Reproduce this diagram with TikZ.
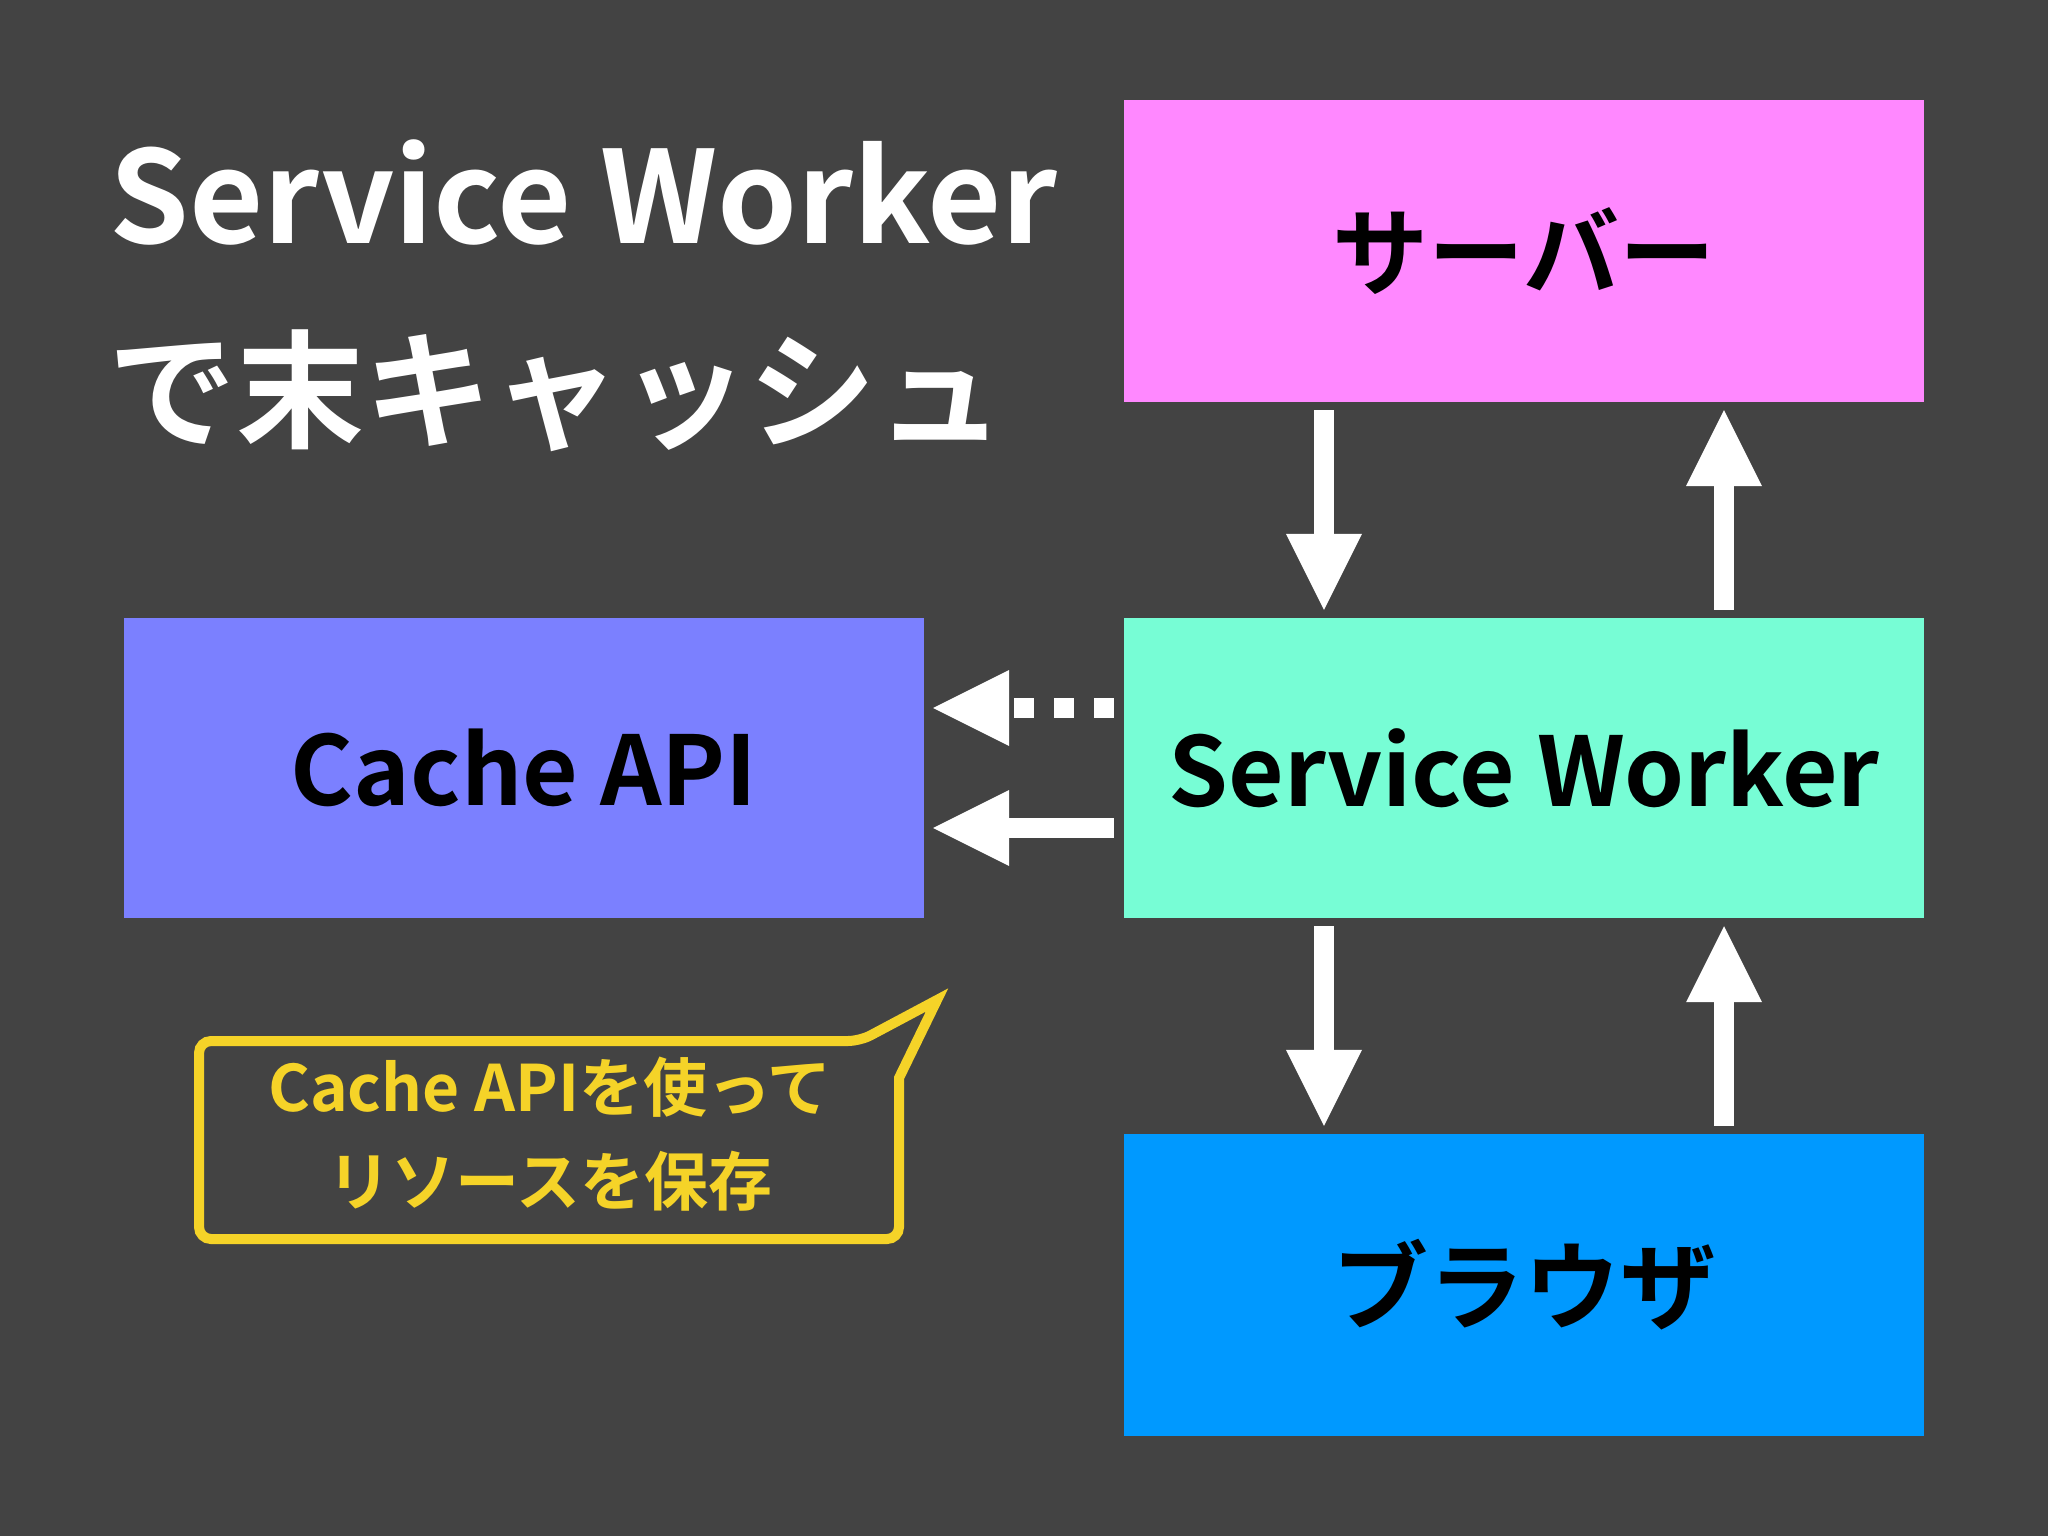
\documentclass[tikz,border=0pt]{standalone}
\usepackage{fontspec}
\setmainfont{Noto Sans CJK JP}[BoldFont={Noto Sans CJK JP Bold}]
\usetikzlibrary{arrows.meta,calc}
\definecolor{bg}{RGB}{67,67,67}
\definecolor{pinkbox}{RGB}{255,136,255}
\definecolor{mintbox}{RGB}{119,253,213}
\definecolor{cachebox}{RGB}{123,128,255}
\definecolor{bluebox}{RGB}{0,153,255}
\definecolor{noteyellow}{RGB}{245,211,40}
\tikzset{
  box/.style={fill=#1, minimum width=800pt, minimum height=300pt, inner sep=0pt,
    font=\fontsize{96}{110}\selectfont\bfseries, text=black},
  arr/.style={white, line width=20pt,
    -{Triangle[length=76pt,width=76pt,line width=0pt]}},
  dotarr/.style={arr, dash pattern=on 20pt off 20pt},
  titletxt/.style={text=white, inner sep=0pt, anchor=base west,
    font=\fontsize{128}{150}\selectfont\bfseries},
  callout/.style={draw=noteyellow, line width=10pt, line join=miter},
}
\begin{document}
\begin{tikzpicture}[x=1pt,y=-1pt]
\fill[bg] (0,0) rectangle (2048,1536);
\useasboundingbox (0,0) rectangle (2048,1536);

\node[titletxt] (title1) at (109,243) {Service Worker};
\node[titletxt] (title2) at (108,438) {で末キャッシュ};

\node[box=pinkbox, minimum height=302pt] (server) at (1524,251) {サーバー};
\node[box=mintbox] (sw) at (1524,768) {Service Worker};
\node[box=bluebox, minimum height=302pt] (browser) at (1524,1285) {ブラウザ};
\node[box=cachebox] (cache) at (524,768) {Cache API};

\draw[arr] ($(server.south)+(-200,8)$) -- ($(sw.north)+(-200,-8)$);
\draw[arr] ($(sw.north)+(200,-8)$) -- ($(server.south)+(200,8)$);
\draw[arr] ($(sw.south)+(-200,8)$) -- ($(browser.north)+(-200,-8)$);
\draw[arr] ($(browser.north)+(200,-8)$) -- ($(sw.south)+(200,8)$);
\draw[dotarr] ($(sw.west)+(-10,-60)$) -- ($(cache.east)+(9,-60)$);
\draw[arr] ($(sw.west)+(-10,60)$) -- ($(cache.east)+(9,60)$);

\draw[callout] (199,1140) [rounded corners=12pt] -- (199,1041) -- (860,1041) [sharp corners] -- (937,1000) -- (899,1078) [rounded corners=12pt] -- (899,1239) -- (199,1239) -- cycle;
\node[text=noteyellow, align=center, inner sep=0pt,
  font=\fontsize{64}{94}\selectfont\bfseries] (note) at (550,1134)
  {Cache APIを使って\\リソースを保存};
\end{tikzpicture}
\end{document}
